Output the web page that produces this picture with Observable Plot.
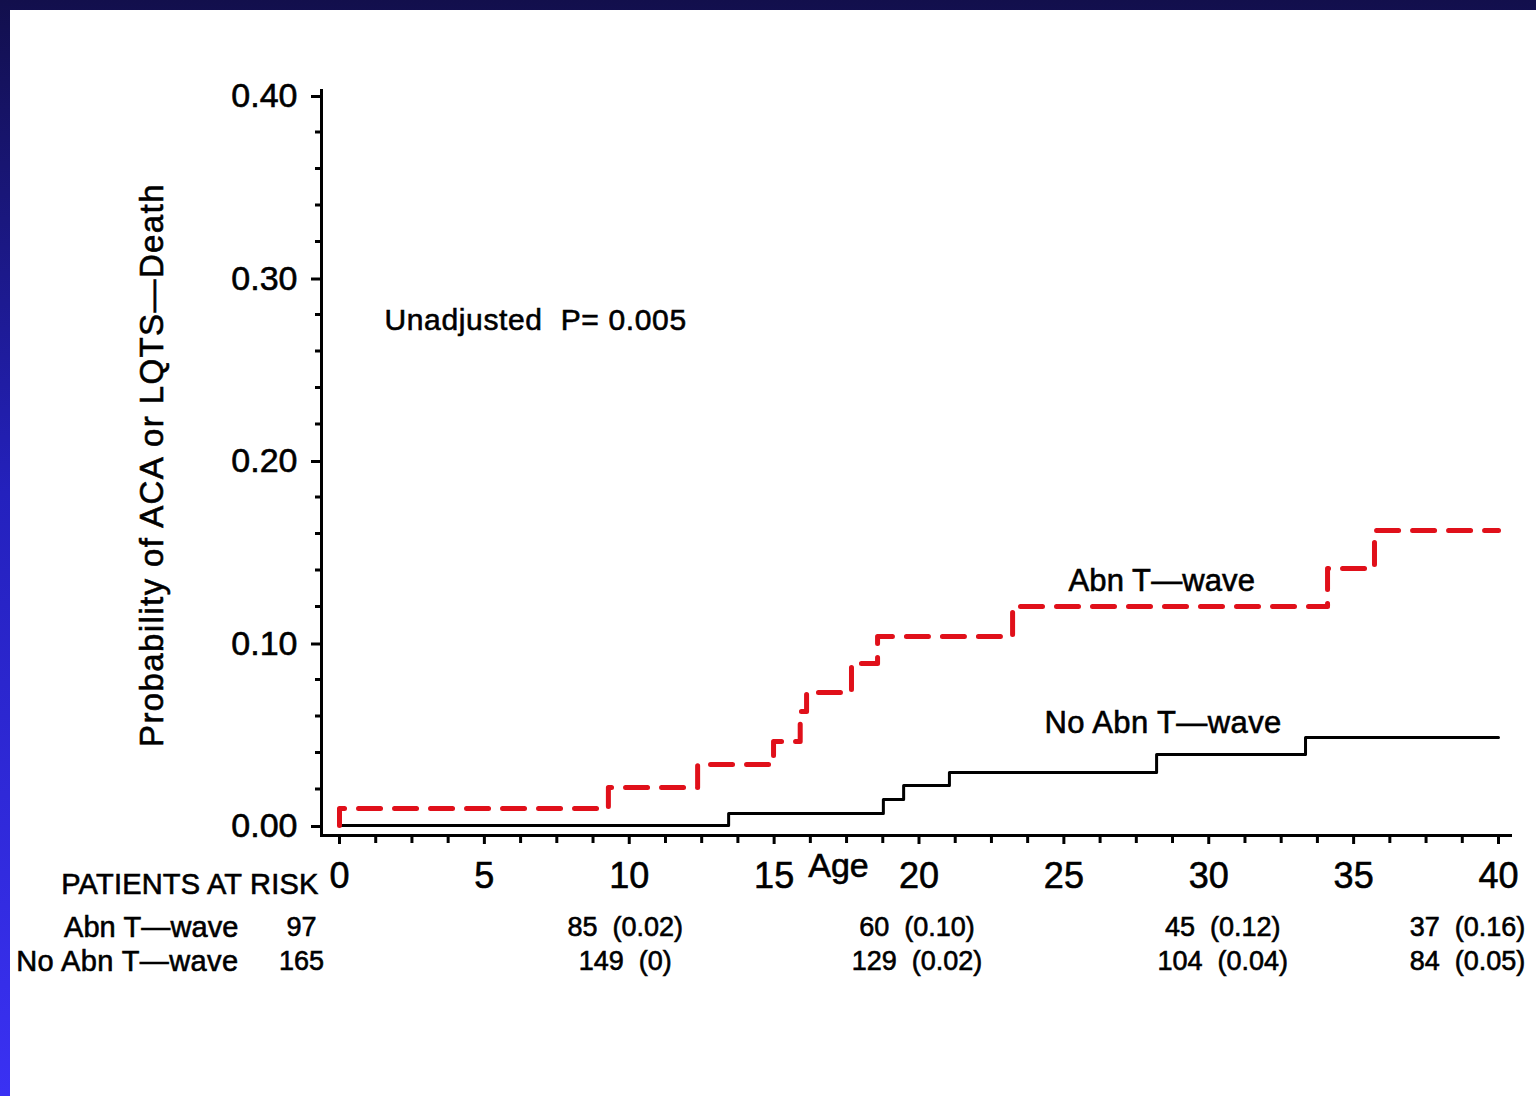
<!DOCTYPE html>
<html>
<head>
<meta charset="utf-8">
<script src="https://cdn.jsdelivr.net/npm/d3@7"></script>
<script src="https://cdn.jsdelivr.net/npm/@observablehq/plot@0.6"></script>
<style>
  html, body { margin: 0; padding: 0; }
  body {
    width: 1536px; height: 1096px; overflow: hidden; position: relative;
    background: linear-gradient(to bottom, #120f4c 0%, #2421bd 45%, #3a31f3 100%);
  }
  #panel { position: absolute; left: 10px; top: 10px; width: 1526px; height: 1086px; background: #ffffff; }
  #panel svg { display: block; overflow: visible; }
  #panel svg text { stroke: #000; stroke-width: 0.6px; paint-order: stroke; }
</style>
</head>
<body>
<div id="panel"></div>
<script>
// ---- Data ----
const abnAge  = [0, 0, 9.28, 12.36, 14.98, 15.9, 16.12, 17.67, 18.57, 23.23, 34.1, 35.72, 40];
const abnProb = [0, 0.0093, 0.0208, 0.0334, 0.046, 0.0625, 0.0729, 0.0888, 0.1036, 0.120, 0.1408, 0.1616, 0.1616];
const noAge   = [0, 13.43, 18.77, 19.47, 21.05, 28.2, 33.34, 40];
const noProb  = [0, 0.0066, 0.0142, 0.0219, 0.029, 0.0389, 0.0482, 0.0482];

const xMajorTicks = [0, 5, 10, 15, 20, 25, 30, 35, 40];
const yMajorTicks = [0, 0.1, 0.2, 0.3, 0.4];

const riskAges   = [0, 10, 20, 30, 40];
const riskAbn    = ["97", "85  (0.02)", "60  (0.10)", "45  (0.12)", "37  (0.16)"];
const riskNoAbn  = ["165", "149  (0)", "129  (0.02)", "104  (0.04)", "84  (0.05)"];
const riskShift  = [-38, -4, -2, 14, -31];
const groupNames = ["Abn T\u2014wave", "No Abn T\u2014wave"];

const yTitle = "Probability of ACA or LQTS\u2014Death";
const xTitle = "Age";
const riskTitle = "PATIENTS AT RISK";
const annotations = [
  {text: "Unadjusted  P= 0.005", x: 1.55, y: 0.2767},
  {text: "Abn T\u2014wave", x: 25.16, y: 0.1342},
  {text: "No Abn T\u2014wave", x: 24.33, y: 0.0559}
];

// ---- Build tables ----
const abnRows = abnAge.map((a, i) => ({age: a, p: abnProb[i]}));
const noRows  = noAge.map((a, i) => ({age: a, p: noProb[i]}));
const xMinorTicks = d3.range(0, 40.001, 1.25).filter(v => Math.abs(v % 5) > 1e-9);
const yMinorTicks = d3.range(0.02, 0.40, 0.02).filter(v => Math.abs(Math.round(v * 10) - v * 10) > 1e-6);

const font = "'Liberation Sans', Arial, Helvetica, sans-serif";
const red = "#e0101a";

const riskMarks = riskAges.flatMap((a, i) => [
  Plot.text([riskAbn[i]], {x: () => a, text: d => d, frameAnchor: "bottom", dy: 92, dx: riskShift[i], fontSize: 27, textAnchor: "middle", lineAnchor: "middle"}),
  Plot.text([riskNoAbn[i]], {x: () => a, text: d => d, frameAnchor: "bottom", dy: 126, dx: riskShift[i], fontSize: 27, textAnchor: "middle", lineAnchor: "middle"})
]);

const chart = Plot.plot({
  width: 1526,
  height: 1086,
  marginLeft: 311,
  marginRight: 26,
  marginTop: 80,
  marginBottom: 261,
  style: {fontFamily: font, background: "transparent", color: "#000", overflow: "visible"},
  x: {domain: [0, 40], range: [329, 1488]},
  y: {domain: [0, 0.4], range: [815, 85]},
  marks: [
    Plot.frame({anchor: "left", stroke: "#000", strokeWidth: 3}),
    Plot.frame({anchor: "bottom", stroke: "#000", strokeWidth: 3}),
    Plot.axisY({ticks: yMajorTicks, tickSize: 10, tickPadding: 14, strokeWidth: 3, tickFormat: d3.format(".2f"), fontSize: 34, dy: 1, label: null}),
    Plot.axisY({ticks: yMinorTicks, tickSize: 6, strokeWidth: 3, tickFormat: () => "", label: null}),
    Plot.axisX({ticks: xMajorTicks, tickSize: 9, tickPadding: 18, strokeWidth: 3, tickFormat: d3.format("d"), fontSize: 36, label: null}),
    Plot.axisX({ticks: xMinorTicks, tickSize: 8, strokeWidth: 3, tickFormat: () => "", label: null}),
    Plot.line(noRows, {x: "age", y: "p", curve: "step-after", stroke: "#000", strokeWidth: 3}),
    Plot.line(abnRows, {x: "age", y: "p", curve: "step-after", stroke: red, strokeWidth: 5, strokeDasharray: "22,14"}),
    Plot.text(annotations.slice(0, 1), {x: "x", y: "y", text: "text", textAnchor: "start", lineAnchor: "middle", fontSize: 30}),
    Plot.text(annotations.slice(1), {x: "x", y: "y", text: "text", textAnchor: "start", lineAnchor: "middle", fontSize: 31}),
    Plot.text([yTitle], {frameAnchor: "left", text: d => d, rotate: -90, dx: -169, dy: 2, fontSize: 33, textAnchor: "middle", lineAnchor: "middle"}),
    Plot.text([xTitle], {x: () => 17.22, text: d => d, frameAnchor: "bottom", dy: 31, fontSize: 34, textAnchor: "middle", lineAnchor: "middle"}),
    Plot.text([riskTitle], {frameAnchor: "bottom-left", text: d => d, dx: -3, dy: 49, fontSize: 29, textAnchor: "end", lineAnchor: "middle"}),
    Plot.text([groupNames[0]], {frameAnchor: "bottom-left", text: d => d, dx: -83, dy: 92, fontSize: 29, textAnchor: "end", lineAnchor: "middle"}),
    Plot.text([groupNames[1]], {frameAnchor: "bottom-left", text: d => d, dx: -83, dy: 126, fontSize: 29, textAnchor: "end", lineAnchor: "middle"}),
    ...riskMarks
  ]
});

// letter spacing tweaks to mimic the wider original lettering
const spacing = new Map([
  [yTitle, "1.4px"],
  [annotations[0].text, "0.65px"],
  [annotations[1].text, "1.7px"],
  [annotations[2].text, "1.8px"],
  [riskTitle, "0.2px"],
  [groupNames[0], "0.1px"],
  [groupNames[1], "0.4px"]
]);
d3.select(chart).selectAll("text").each(function () {
  const s = spacing.get(this.textContent);
  if (s) this.setAttribute("letter-spacing", s);
});

document.getElementById("panel").appendChild(chart);
</script>
</body>
</html>
